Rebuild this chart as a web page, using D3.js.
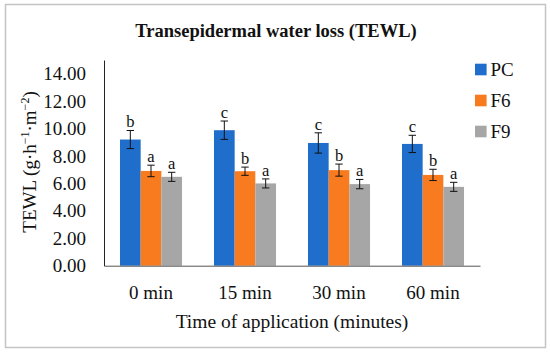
<!DOCTYPE html>
<html>
<head>
<meta charset="utf-8">
<script src="https://cdn.jsdelivr.net/npm/d3@7.9.0/dist/d3.min.js"></script>
<style>
  body { margin: 0; background: #fff; }
  svg text { font-family: "Liberation Serif", "DejaVu Serif", serif; fill: #111; }
</style>
</head>
<body>
<svg id="chart" width="550" height="354"></svg>
<script>
// data
const times = ['0 min', '15 min', '30 min', '60 min'];
const series = ['PC', 'F6', 'F9'];
const pcValues = [9.20, 9.88, 8.95, 8.88];
const f6Values = [6.91, 6.89, 6.97, 6.62];
const f9Values = [6.48, 6.00, 5.95, 5.75];
const pcErrors = [0.66, 0.67, 0.74, 0.63];
const f6Errors = [0.42, 0.30, 0.44, 0.41];
const f9Errors = [0.33, 0.33, 0.34, 0.33];
const pcLetters = ['b', 'c', 'c', 'c'];
const f6Letters = ['a', 'b', 'b', 'b'];
const f9Letters = ['a', 'a', 'a', 'a'];
const yTicks = [0, 2, 4, 6, 8, 10, 12, 14];

const colors = d3.scaleOrdinal().domain(series).range(['#1f6ecb', '#f97b20', '#a6a6a6']);
const serif = '"Liberation Serif", "DejaVu Serif", serif';

const svg = d3.select('#chart');

// outer frame
svg.append('rect')
  .attr('x', 5.5).attr('y', 4.5)
  .attr('width', 540).attr('height', 343)
  .attr('fill', 'none')
  .attr('stroke', '#c4c4c4')
  .attr('stroke-width', 1.5);

const plotLeft = 104, plotRight = 480, plotTop = 60, plotBottom = 265.7;

const x = d3.scaleBand().domain(times).range([plotLeft, plotRight])
  .paddingInner(0.34).paddingOuter(0.17);
const xs = d3.scaleBand().domain(series).range([0, x.bandwidth()]);
const y = d3.scaleLinear().domain([0, 15]).range([plotBottom, plotTop]);

// build rows from the arrays
let rows = [];
times.forEach((t, i) => {
  rows.push({ time: t, s: 'PC', v: pcValues[i], e: pcErrors[i], l: pcLetters[i] });
  rows.push({ time: t, s: 'F6', v: f6Values[i], e: f6Errors[i], l: f6Letters[i] });
  rows.push({ time: t, s: 'F9', v: f9Values[i], e: f9Errors[i], l: f9Letters[i] });
});

// bars
svg.append('g').selectAll('rect')
  .data(rows)
  .join('rect')
  .attr('x', d => x(d.time) + xs(d.s))
  .attr('y', d => y(d.v))
  .attr('width', xs.bandwidth())
  .attr('height', d => y(0) - y(d.v))
  .attr('fill', d => colors(d.s));

// error bars
let errG = svg.append('g').attr('stroke', '#111').attr('stroke-width', 1);
rows.forEach(d => {
  let cx = x(d.time) + xs(d.s) + xs.bandwidth() / 2;
  errG.append('line').attr('x1', cx).attr('x2', cx)
    .attr('y1', y(d.v + d.e)).attr('y2', y(d.v - d.e));
  errG.append('line').attr('x1', cx - 3.7).attr('x2', cx + 3.7)
    .attr('y1', y(d.v + d.e)).attr('y2', y(d.v + d.e));
  errG.append('line').attr('x1', cx - 3.7).attr('x2', cx + 3.7)
    .attr('y1', y(d.v - d.e)).attr('y2', y(d.v - d.e));
});

// significance letters
svg.append('g').selectAll('text')
  .data(rows)
  .join('text')
  .attr('x', d => x(d.time) + xs(d.s) + xs.bandwidth() / 2)
  .attr('y', d => y(d.v + d.e) - 3)
  .attr('text-anchor', 'middle')
  .style('font-size', '16.5px')
  .text(d => d.l);

// y axis
const yAxis = d3.axisLeft(y).tickValues(yTicks).tickFormat(d3.format('.2f')).tickSize(0).tickPadding(18);
let yg = svg.append('g').attr('transform', `translate(${plotLeft},0)`).call(yAxis)
  .attr('font-family', null).attr('font-size', null);
yg.select('.domain').attr('stroke', '#222');
yg.selectAll('text').style('font-family', serif).style('font-size', '19px');

// x axis
const xAxis = d3.axisBottom(x).tickSize(0).tickPadding(20);
let xg = svg.append('g').attr('transform', `translate(0,${plotBottom})`).call(xAxis)
  .attr('font-family', null).attr('font-size', null);
xg.select('.domain').attr('stroke', '#555');
xg.selectAll('text').style('font-family', serif).style('font-size', '19px');

// titles
svg.append('text')
  .attr('x', 276).attr('y', 37)
  .attr('text-anchor', 'middle')
  .style('font-size', '18.5px')
  .style('font-weight', 'bold')
  .text('Transepidermal water loss (TEWL)');

svg.append('text')
  .attr('x', (plotLeft + plotRight) / 2).attr('y', 328)
  .attr('text-anchor', 'middle')
  .style('font-size', '19.5px')
  .text('Time of application (minutes)');

let yt = svg.append('text')
  .attr('transform', 'translate(36,162) rotate(-90)')
  .attr('text-anchor', 'middle')
  .style('font-size', '19px');
yt.append('tspan').text('TEWL (g·h');
yt.append('tspan').style('font-size', '12px').attr('dy', -7).text('−1');
yt.append('tspan').attr('dy', 7).text('·m');
yt.append('tspan').style('font-size', '12px').attr('dy', -7).text('−2');
yt.append('tspan').attr('dy', 7).text(')');

// legend
let lg = svg.append('g');
series.forEach((s, i) => {
  let ly = 69.5 + i * 31;
  lg.append('rect')
    .attr('x', 475).attr('y', ly - 5.8)
    .attr('width', 11.6).attr('height', 11.6)
    .attr('fill', colors(s));
  lg.append('text')
    .attr('x', 490.5).attr('y', ly + 6.5)
    .style('font-size', '19px')
    .text(s);
});
</script>
</body>
</html>
